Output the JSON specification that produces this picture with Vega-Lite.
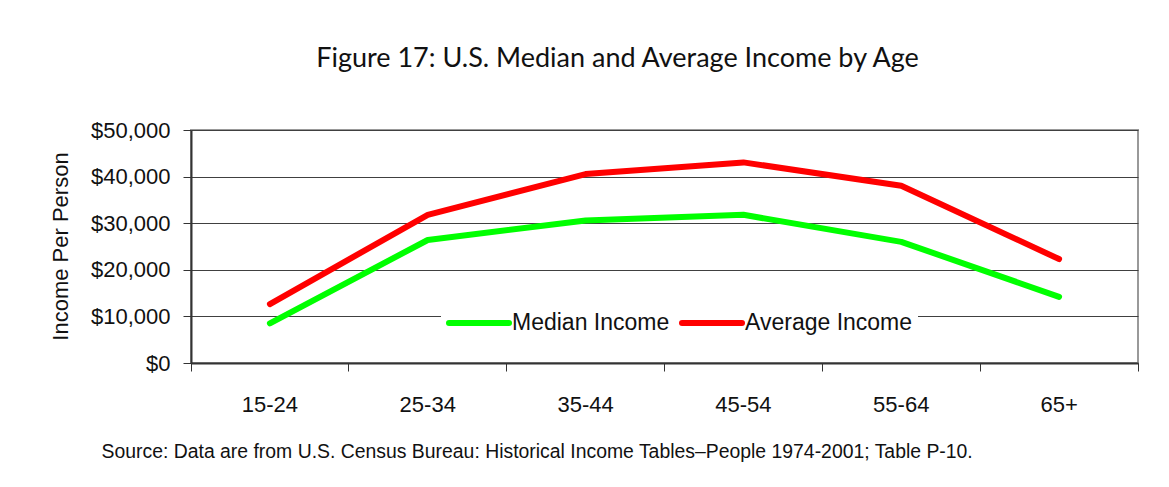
{
  "$schema": "https://vega.github.io/schema/vega-lite/v6.json",
  "width": 947,
  "height": 233,
  "autosize": "none",
  "padding": {"left": 191, "top": 130, "right": 31, "bottom": 124},
  "background": "white",
  "title": {
    "text": "Figure 17: U.S. Median and Average Income by Age",
    "font": "Lato",
    "fontSize": 27,
    "fontWeight": "normal",
    "color": "#111111",
    "anchor": "middle",
    "frame": "group",
    "dx": -47,
    "baseline": "alphabetic",
    "offset": 25
  },
  "data": {
    "values": [
      {"age": "15-24", "series": "Median Income", "income": 8500},
      {"age": "25-34", "series": "Median Income", "income": 26400},
      {"age": "35-44", "series": "Median Income", "income": 30600},
      {"age": "45-54", "series": "Median Income", "income": 31800},
      {"age": "55-64", "series": "Median Income", "income": 26000},
      {"age": "65+", "series": "Median Income", "income": 14200},
      {"age": "15-24", "series": "Average Income", "income": 12650},
      {"age": "25-34", "series": "Average Income", "income": 31800},
      {"age": "35-44", "series": "Average Income", "income": 40550},
      {"age": "45-54", "series": "Average Income", "income": 43050},
      {"age": "55-64", "series": "Average Income", "income": 38050},
      {"age": "65+", "series": "Average Income", "income": 22300}
    ]
  },
  "mark": {"type": "line", "strokeWidth": 6, "strokeCap": "round", "strokeJoin": "round"},
  "encoding": {
    "x": {
      "field": "age",
      "type": "nominal",
      "sort": ["15-24", "25-34", "35-44", "45-54", "55-64", "65+"],
      "bandPosition": 0.5,
      "scale": {"type": "band", "paddingInner": 0, "paddingOuter": 0},
      "axis": {
        "title": "Source: Data are from U.S. Census Bureau: Historical Income Tables\u2013People 1974-2001; Table P-10.",
        "titleFont": "Liberation Sans",
        "titleFontSize": 19.4,
        "titleFontWeight": "normal",
        "titleColor": "#111111",
        "titleAlign": "left",
        "titleAnchor": "start",
        "titleX": -90,
        "titleY": 88,
        "titleBaseline": "middle",
        "labelAngle": 0,
        "labelFont": "Liberation Sans",
        "labelFontSize": 22,
        "labelColor": "#111111",
        "labelPadding": 23,
        "bandPosition": 1,
        "tickExtra": true,
        "ticks": true,
        "tickSize": 8,
        "tickColor": "#333333",
        "tickWidth": 1,
        "domainColor": "#333333",
        "domainWidth": 2,
        "grid": false
      }
    },
    "y": {
      "field": "income",
      "type": "quantitative",
      "scale": {"domain": [0, 50000], "nice": false},
      "axis": {
        "title": "Income Per Person",
        "titleFont": "Liberation Sans",
        "titleFontSize": 22,
        "titleFontWeight": "normal",
        "titleColor": "#111111",
        "titleX": -131,
        "titleY": 116,
        "titleAngle": -90,
        "titleAlign": "center",
        "titleBaseline": "middle",
        "values": [0, 10000, 20000, 30000, 40000, 50000],
        "format": "$,.0f",
        "labelFont": "Liberation Sans",
        "labelFontSize": 22,
        "labelColor": "#111111",
        "labelPadding": 13,
        "tickSize": 8,
        "tickColor": "#333333",
        "domainColor": "#333333",
        "domainWidth": 2,
        "grid": true,
        "gridColor": "#404040",
        "gridWidth": 1
      }
    },
    "color": {
      "field": "series",
      "type": "nominal",
      "sort": ["Median Income", "Average Income"],
      "scale": {"domain": ["Median Income", "Average Income"], "range": ["#00ff00", "#ff0000"]},
      "legend": {
        "title": null,
        "orient": "none",
        "direction": "horizontal",
        "legendX": 250,
        "legendY": 155,
        "fillColor": "white",
        "padding": 5,
        "symbolType": "stroke",
        "symbolSize": 3600,
        "symbolStrokeWidth": 6,
        "labelFont": "Liberation Sans",
        "labelFontSize": 23,
        "labelColor": "#111111",
        "labelOffset": 0,
        "columnPadding": 0,
        "labelLimit": 300,
        "encode": {"symbols": {"update": {"strokeCap": {"value": "round"}}}}
      }
    }
  },
  "config": {
    "view": {"stroke": "#999999", "strokeWidth": 2}
  }
}
